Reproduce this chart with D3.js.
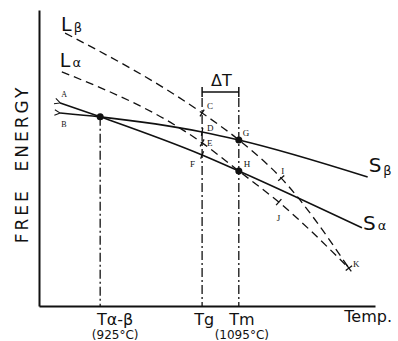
<!DOCTYPE html>
<html>
<head>
<meta charset="utf-8">
<script src="https://cdn.jsdelivr.net/npm/d3@7"></script>
<style>
  body { margin: 0; background: #fff; }
  text { fill: #111; }
</style>
</head>
<body>
<svg id="chart" width="398" height="341"></svg>
<script>
// curves: [temperature (°C), free energy (arb. units)]
var sAlpha = [[876, 68.6], [925, 63.9], [1050, 51.0], [1095, 45.6], [1246, 26.4]];
var sBeta  = [[876, 65.2], [925, 63.9], [1050, 58.8], [1095, 56.1], [1253, 43.6]];
var lBeta  = [[882, 92.2], [1050, 65.2], [1095, 56.1], [1147, 43.2], [1230, 12.8]];
var lAlpha = [[878, 79.1], [1050, 55.1], [1095, 45.6], [1144, 35.1], [1230, 12.8]];

var tickTemps = [925, 1050, 1095];
var tickMain = ['Tα-β', 'Tg', 'Tm'];
var tickSub = ['(925°C)', '', '(1095°C)'];

// letter points: name, curve, index in curve
var letters = [
  ['C', 'lBeta', 1], ['D', 'sBeta', 2], ['E', 'lAlpha', 1], ['F', 'sAlpha', 2],
  ['G', 'sBeta', 3], ['H', 'sAlpha', 3], ['I', 'lBeta', 3], ['J', 'lAlpha', 3], ['K', 'lBeta', 4]
];
var dots = [[925, 63.9], [1095, 56.1], [1095, 45.6]];
var bracketLevel = 72.3;

var curves = { sAlpha: sAlpha, sBeta: sBeta, lBeta: lBeta, lAlpha: lAlpha };

var svg = d3.select('#chart');
var x = d3.scaleLinear().domain([850, 1262]).range([39, 375]);
var y = d3.scaleLinear().domain([0, 100]).range([306, 10]);

var font = 'DejaVu Sans, sans-serif';

var defs = svg.append('defs');
defs.append('marker')
  .attr('id', 'arr').attr('viewBox', '0 0 10 10')
  .attr('refX', 1).attr('refY', 5)
  .attr('markerWidth', 7).attr('markerHeight', 7)
  .attr('markerUnits', 'userSpaceOnUse')
  .attr('orient', 'auto-start-reverse')
  .append('path').attr('d', 'M9,1 L1,5 L9,9').attr('fill', 'none')
  .attr('stroke', '#111').attr('stroke-width', 1.5);

// axes
svg.append('g').attr('transform', 'translate(0,' + y(0) + ')')
  .call(d3.axisBottom(x).tickValues([]).tickSizeOuter(0))
  .select('.domain').attr('stroke', '#111').attr('stroke-width', 2.2);
svg.append('g').attr('transform', 'translate(' + x(850) + ',0)')
  .call(d3.axisLeft(y).tickValues([]).tickSizeOuter(0))
  .select('.domain').attr('stroke', '#111').attr('stroke-width', 2);

var line = d3.line().x(function (d) { return x(d[0]); }).y(function (d) { return y(d[1]); })
  .curve(d3.curveMonotoneX);

// dash-dot verticals
var vTops = [63.9, bracketLevel, bracketLevel];
svg.selectAll('.vline').data(tickTemps).enter().append('line')
  .attr('x1', function (d) { return x(d); }).attr('x2', function (d) { return x(d); })
  .attr('y1', function (d, i) { return y(vTops[i]) + (i ? 6 : 0); }).attr('y2', y(0))
  .attr('stroke', '#111').attr('stroke-width', 1.3)
  .attr('stroke-dasharray', '9,3,2,3');

// solid curves
svg.append('path').attr('d', line(sAlpha)).attr('fill', 'none')
  .attr('stroke', '#111').attr('stroke-width', 1.6).attr('marker-start', 'url(#arr)');
svg.append('path').attr('d', line(sBeta)).attr('fill', 'none')
  .attr('stroke', '#111').attr('stroke-width', 1.6).attr('marker-start', 'url(#arr)');

// dashed liquid curves
[lBeta, lAlpha].forEach(function (c) {
  svg.append('path').attr('d', line(c)).attr('fill', 'none')
    .attr('stroke', '#111').attr('stroke-width', 1.3).attr('stroke-dasharray', '8,5');
});

// tick marks at letter points (perpendicular to curve)
letters.forEach(function (l) {
  var c = curves[l[1]], i = l[2];
  var p = c[i], a = c[Math.max(0, i - 1)], b = c[Math.min(c.length - 1, i + 1)];
  var dx = x(b[0]) - x(a[0]), dy = y(b[1]) - y(a[1]);
  var len = Math.sqrt(dx * dx + dy * dy);
  var nx = -dy / len * 4, ny = dx / len * 4;
  var px = x(p[0]), py = y(p[1]);
  if (l[0] === 'G' || l[0] === 'H') return;
  svg.append('line').attr('x1', px - nx).attr('y1', py - ny).attr('x2', px + nx).attr('y2', py + ny)
    .attr('stroke', '#111').attr('stroke-width', 1.3);
  if (l[0] === 'K') {
    var tx = dx / len * 4, ty = dy / len * 4;
    svg.append('line').attr('x1', px - tx).attr('y1', py - ty).attr('x2', px + tx).attr('y2', py + ty)
      .attr('stroke', '#111').attr('stroke-width', 1.3);
  }
});

// dots
svg.selectAll('.dot').data(dots).enter().append('circle')
  .attr('cx', function (d) { return x(d[0]); }).attr('cy', function (d) { return y(d[1]); })
  .attr('r', 3.5).attr('fill', '#111');

// letter labels
var letterOff = { C: [5, -4], D: [5, -1], E: [5, 3], F: [-12, 12], G: [4, -4], H: [5, -4],
  I: [0, -4], J: [-2, 19], K: [4, -1] };
letters.forEach(function (l) {
  var p = curves[l[1]][l[2]];
  svg.append('text').attr('x', x(p[0]) + letterOff[l[0]][0]).attr('y', y(p[1]) + letterOff[l[0]][1])
    .attr('font-family', 'Liberation Serif, serif').attr('font-size', 9).text(l[0]);
});
svg.append('text').attr('x', x(sAlpha[0][0]) + 1).attr('y', y(sAlpha[0][1]) - 6)
  .attr('font-family', 'Liberation Serif, serif').attr('font-size', 8).text('A');
svg.append('text').attr('x', x(sBeta[0][0]) + 1).attr('y', y(sBeta[0][1]) + 14)
  .attr('font-family', 'Liberation Serif, serif').attr('font-size', 8).text('B');

// delta T bracket
var bx1 = x(tickTemps[1]), bx2 = x(tickTemps[2]), by = y(bracketLevel);
svg.append('path').attr('d', 'M' + bx1 + ',' + (by - 5) + 'V' + (by + 5) + 'M' + bx1 + ',' + by +
  'H' + bx2 + 'M' + bx2 + ',' + (by - 5) + 'V' + (by + 5))
  .attr('fill', 'none').attr('stroke', '#111').attr('stroke-width', 1.5);
svg.append('text').attr('x', (bx1 + bx2) / 2 + 1).attr('y', by - 6).attr('text-anchor', 'middle')
  .attr('font-family', font).attr('font-size', 16).text('ΔT');

// curve labels
function curveLabel(main, sub, px, py, subDy, size) {
  var t = svg.append('text').attr('x', px).attr('y', py).attr('font-family', font).attr('font-size', size);
  t.append('tspan').text(main);
  t.append('tspan').attr('dx', 2).attr('dy', subDy).attr('font-size', 13).text(sub);
}
curveLabel('L', 'β', x(lBeta[0][0]) - 4, y(lBeta[0][1]) - 2, 1, 19);
curveLabel('L', 'α', x(lAlpha[0][0]) - 2, y(lAlpha[0][1]) - 5, 0, 19);
curveLabel('S', 'β', x(sBeta[4][0]) + 1, y(sBeta[4][1]) - 5, 3, 20);
curveLabel('S', 'α', x(sAlpha[4][0]) + 1, y(sAlpha[4][1]) + 2, 0, 20);

// x tick labels
var labelShift = [15, 2, 3];
svg.selectAll('.tl').data(tickTemps).enter().append('text')
  .attr('x', function (d, i) { return x(d) + labelShift[i]; }).attr('y', 325)
  .attr('text-anchor', 'middle').attr('font-family', font).attr('font-size', 16)
  .text(function (d, i) { return tickMain[i]; });
svg.selectAll('.ts').data(tickTemps).enter().append('text')
  .attr('x', function (d, i) { return x(d) + labelShift[i]; }).attr('y', 339)
  .attr('text-anchor', 'middle').attr('font-family', font).attr('font-size', 12)
  .text(function (d, i) { return tickSub[i]; });

svg.append('text').attr('x', 392).attr('y', 322).attr('text-anchor', 'end')
  .attr('font-family', font).attr('font-size', 16).text('Temp.');

svg.append('text').attr('transform', 'translate(28,164) rotate(-90)')
  .attr('text-anchor', 'middle').attr('font-family', font).attr('font-size', 17)
  .attr('letter-spacing', 3)
  .attr('xml:space', 'preserve').text('FREE  ENERGY');
</script>
</body>
</html>
